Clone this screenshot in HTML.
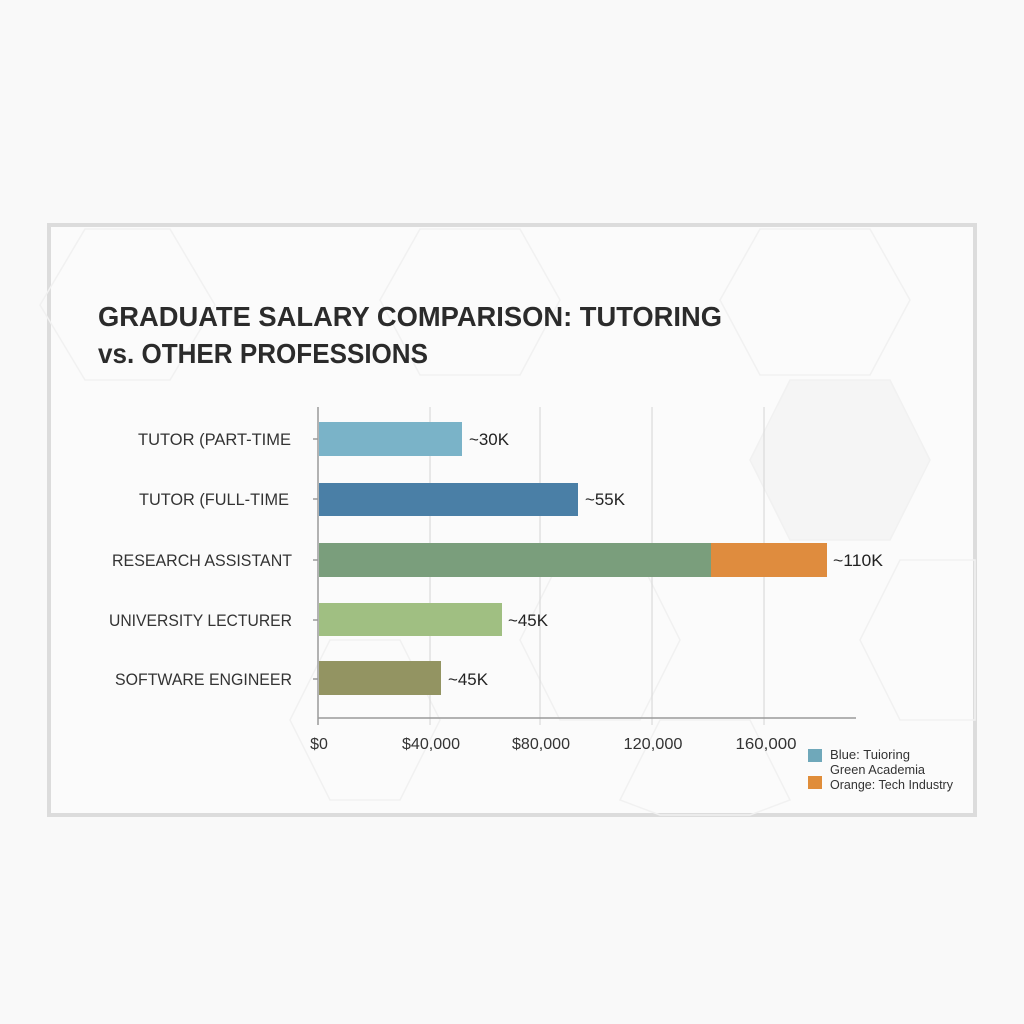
<!DOCTYPE html>
<html><head><meta charset="utf-8"><style>
html,body{margin:0;padding:0;background:#f9f9f9;}
svg{display:block;}
text{font-family:"Liberation Sans",Arial,sans-serif;}
</style></head><body>
<svg width="1024" height="1024" viewBox="0 0 1024 1024" xmlns="http://www.w3.org/2000/svg">
<rect x="0" y="0" width="1024" height="1024" fill="#f9f9f9"/>
<rect x="49" y="225" width="926" height="590" fill="#fbfbfb" stroke="#dcdcdc" stroke-width="4"/>
<g fill="none" stroke="#f1f1f1" stroke-width="1.5">
<polygon points="85,229 170,229 215,305 170,380 85,380 40,305"/>
<polygon points="420,229 520,229 560,300 520,375 420,375 380,300"/>
<polygon points="760,229 870,229 910,300 870,375 760,375 720,300"/>
<polygon points="790,380 890,380 930,460 890,540 790,540 750,460" fill="#f5f5f5"/>
<polygon points="560,560 640,560 680,640 640,720 560,720 520,640"/>
<polygon points="330,640 400,640 440,720 400,800 330,800 290,720"/>
<polygon points="660,720 750,720 790,800 750,815 660,815 620,800"/>
<polygon points="900,560 975,560 975,720 900,720 860,640"/>
</g>
<text x="98" y="326" font-size="28" font-weight="bold" fill="#2b2b2b" textLength="624" lengthAdjust="spacingAndGlyphs">GRADUATE SALARY COMPARISON: TUTORING</text>
<text x="98" y="363" font-size="28" font-weight="bold" fill="#2b2b2b" textLength="330" lengthAdjust="spacingAndGlyphs">vs. OTHER PROFESSIONS</text>
<!-- gridlines -->
<g stroke="#dadada" stroke-width="1.2">
<line x1="430" y1="407" x2="430" y2="725"/>
<line x1="540" y1="407" x2="540" y2="725"/>
<line x1="652" y1="407" x2="652" y2="725"/>
<line x1="764" y1="407" x2="764" y2="725"/>
</g>
<!-- axes -->
<g stroke="#9a9a9a" stroke-width="1.5">
<line x1="318" y1="407" x2="318" y2="725"/>
<line x1="318" y1="718" x2="856" y2="718"/>
<line x1="313" y1="439" x2="318" y2="439"/>
<line x1="313" y1="499" x2="318" y2="499"/>
<line x1="313" y1="560" x2="318" y2="560"/>
<line x1="313" y1="620" x2="318" y2="620"/>
<line x1="313" y1="679" x2="318" y2="679"/>
</g>
<!-- bars -->
<rect x="319" y="422" width="143" height="34" fill="#7ab3c8"/>
<rect x="319" y="483" width="259" height="33" fill="#4a7fa6"/>
<rect x="319" y="543" width="392" height="34" fill="#7a9e7c"/>
<rect x="711" y="543" width="116" height="34" fill="#df8c3e"/>
<rect x="319" y="603" width="183" height="33" fill="#a0bf82"/>
<rect x="319" y="661" width="122" height="34" fill="#939462"/>
<!-- category labels -->
<g font-size="17" fill="#333" text-anchor="end">
<text x="291" y="445" textLength="153" lengthAdjust="spacingAndGlyphs">TUTOR (PART-TIME</text>
<text x="289" y="505" textLength="150" lengthAdjust="spacingAndGlyphs">TUTOR (FULL-TIME</text>
<text x="292" y="566" textLength="180" lengthAdjust="spacingAndGlyphs">RESEARCH ASSISTANT</text>
<text x="292" y="626" textLength="183" lengthAdjust="spacingAndGlyphs">UNIVERSITY LECTURER</text>
<text x="292" y="685" textLength="177" lengthAdjust="spacingAndGlyphs">SOFTWARE ENGINEER</text>
</g>
<!-- value labels -->
<g font-size="17" fill="#222">
<text x="469" y="445" textLength="40" lengthAdjust="spacingAndGlyphs">~30K</text>
<text x="585" y="505" textLength="40" lengthAdjust="spacingAndGlyphs">~55K</text>
<text x="833" y="566" textLength="50" lengthAdjust="spacingAndGlyphs">~110K</text>
<text x="508" y="626" textLength="40" lengthAdjust="spacingAndGlyphs">~45K</text>
<text x="448" y="685" textLength="40" lengthAdjust="spacingAndGlyphs">~45K</text>
</g>
<!-- x tick labels -->
<g font-size="16" fill="#333" text-anchor="middle">
<text x="319" y="749">$0</text>
<text x="431" y="749" textLength="58" lengthAdjust="spacingAndGlyphs">$40,000</text>
<text x="541" y="749" textLength="58" lengthAdjust="spacingAndGlyphs">$80,000</text>
<text x="653" y="749" textLength="59" lengthAdjust="spacingAndGlyphs">120,000</text>
<text x="766" y="749" textLength="61" lengthAdjust="spacingAndGlyphs">160,000</text>
</g>
<!-- legend -->
<rect x="808" y="749" width="14" height="13" fill="#6fa8ba"/>
<rect x="808" y="776" width="14" height="13" fill="#e08d3a"/>
<g font-size="13" fill="#333">
<text x="830" y="759" textLength="80" lengthAdjust="spacingAndGlyphs">Blue: Tuioring</text>
<text x="830" y="774" textLength="95" lengthAdjust="spacingAndGlyphs">Green Academia</text>
<text x="830" y="789" textLength="123" lengthAdjust="spacingAndGlyphs">Orange: Tech Industry</text>
</g>
</svg>
</body></html>
